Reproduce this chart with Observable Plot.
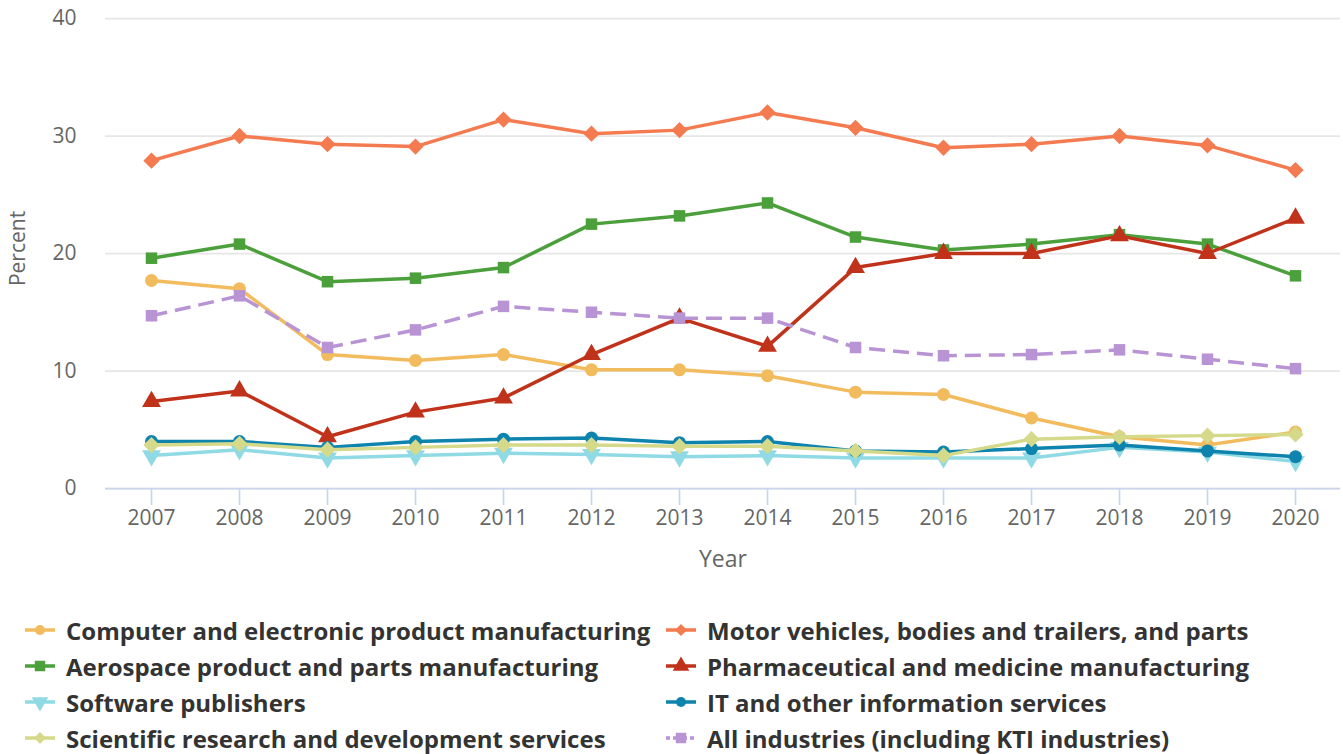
<!DOCTYPE html>
<html>
<head>
<meta charset="utf-8">
<script src="https://cdn.jsdelivr.net/npm/d3@7"></script>
<script src="https://cdn.jsdelivr.net/npm/@observablehq/plot@0.6"></script>
<style>
  html, body { margin: 0; padding: 0; background: #fff; }
  body { width: 1343px; height: 754px; overflow: hidden; font-family: "Open Sans", sans-serif; }
  #legend { position: relative; height: 174px; }
  .item { position: absolute; display: flex; align-items: center; font-weight: bold; font-size: 24px; color: #333; white-space: nowrap; height: 32px; }
  .item svg { margin-right: 10px; flex: none; }
</style>
</head>
<body>
<div id="chart"></div>
<div id="legend"></div>
<script>
const years = [2007, 2008, 2009, 2010, 2011, 2012, 2013, 2014, 2015, 2016, 2017, 2018, 2019, 2020];
const seriesNames = [
  "Computer and electronic product manufacturing",
  "Motor vehicles, bodies and trailers, and parts",
  "Aerospace product and parts manufacturing",
  "Pharmaceutical and medicine manufacturing",
  "Software publishers",
  "IT and other information services",
  "Scientific research and development services",
  "All industries (including KTI industries)"
];
const computer   = [17.7, 17.0, 11.4, 10.9, 11.4, 10.1, 10.1, 9.6, 8.2, 8.0, 6.0, 4.4, 3.7, 4.8];
const motor      = [27.9, 30.0, 29.3, 29.1, 31.4, 30.2, 30.5, 32.0, 30.7, 29.0, 29.3, 30.0, 29.2, 27.1];
const aerospace  = [19.6, 20.8, 17.6, 17.9, 18.8, 22.5, 23.2, 24.3, 21.4, 20.3, 20.8, 21.6, 20.8, 18.1];
const pharma     = [7.4, 8.3, 4.4, 6.5, 7.7, 11.4, 14.5, 12.1, 18.8, 20.0, 20.0, 21.5, 20.0, 23.0];
const software   = [2.8, 3.3, 2.6, 2.8, 3.0, 2.9, 2.7, 2.8, 2.6, 2.6, 2.6, 3.5, 3.1, 2.3];
const itServices = [4.0, 4.0, 3.5, 4.0, 4.2, 4.3, 3.9, 4.0, 3.2, 3.1, 3.4, 3.7, 3.2, 2.7];
const scientific = [3.7, 3.8, 3.3, 3.5, 3.7, 3.7, 3.6, 3.6, 3.2, 2.8, 4.2, 4.4, 4.5, 4.6];
const allInd     = [14.7, 16.4, 12.0, 13.5, 15.5, 15.0, 14.5, 14.5, 12.0, 11.3, 11.4, 11.8, 11.0, 10.2];
const yTicks = [0, 10, 20, 30, 40];

const seriesValues = [computer, motor, aerospace, pharma, software, itServices, scientific, allInd];
const colors = ["#f2bc5e", "#f47a50", "#4ba03c", "#c1321a", "#8fdae4", "#0d83ad", "#d5d98a", "#b894d4"];

const triangleDown = {
  draw(context, size) {
    const s = Math.sqrt(size / (Math.sqrt(3) / 4));
    const h = s * Math.sqrt(3) / 2;
    context.moveTo(0, h * 2 / 3);
    context.lineTo(-s / 2, -h / 3);
    context.lineTo(s / 2, -h / 3);
    context.closePath();
  }
};
const triangleUp = {
  draw(context, size) {
    const s = Math.sqrt(size / (Math.sqrt(3) / 4));
    const h = s * Math.sqrt(3) / 2;
    context.moveTo(0, -h * 2 / 3);
    context.lineTo(-s / 2, h / 3);
    context.lineTo(s / 2, h / 3);
    context.closePath();
  }
};
const diamond = {
  draw(context, size) {
    const r = Math.sqrt(size / 2);
    context.moveTo(0, -r);
    context.lineTo(r, 0);
    context.lineTo(0, r);
    context.lineTo(-r, 0);
    context.closePath();
  }
};
const square = {
  draw(context, size) {
    const r = Math.sqrt(size) / 2;
    context.rect(-r, -r, 2 * r, 2 * r);
  }
};
const circle = d3.symbolCircle;
const symbols = [circle, diamond, square, triangleUp, triangleDown, circle, diamond, square];
const markerR = [6.5, 6.5, 6.5, 7, 7, 6.5, 6.5, 6.5];
const legendArea = [Math.PI * 25, 2 * 36, 110, 120, 120, Math.PI * 25, 2 * 36, 110];

const data = [];
seriesNames.forEach((name, i) => {
  years.forEach((yr, j) => data.push({ series: name, idx: i, year: yr, value: seriesValues[i][j] }));
});

const marks = [
  Plot.gridY(yTicks, { stroke: "#e6e6e6", strokeOpacity: 1, strokeWidth: 1.75 }),
  Plot.axisY(yTicks, { tickSize: 0, tickPadding: 29, fontSize: 21, fill: "#666", label: null, fontFamily: "Open Sans" }),
  Plot.ruleY([0], { stroke: "#ccd6eb", strokeWidth: 1.75 }),
  Plot.axisX(years, { tickSize: 17, stroke: "#ccd6eb", strokeWidth: 1.75, tickPadding: 5, fontSize: 21, fill: "#666", label: null, tickFormat: d => String(d), fontFamily: "Open Sans" }),
  Plot.text(["Year"], { frameAnchor: "bottom", lineAnchor: "middle", textAnchor: "middle", dy: 71, fontSize: 23, fill: "#666", fontFamily: "Open Sans" }),
  Plot.text(["Percent"], { frameAnchor: "left", textAnchor: "middle", lineAnchor: "middle", dx: -87, dy: -5, rotate: -90, fontSize: 21, fill: "#666", fontFamily: "Open Sans" })
];
seriesNames.forEach((name, i) => {
  const d = data.filter(r => r.idx === i);
  marks.push(Plot.line(d, {
    x: "year", y: "value", stroke: colors[i], strokeWidth: 3.5,
    strokeDasharray: i === 7 ? "16,8" : null, strokeLinejoin: "round", strokeLinecap: i === 7 ? "butt" : "round"
  }));
  marks.push(Plot.dot(d, {
    x: "year", y: "value", fill: colors[i], stroke: "none", symbol: () => symbols[i], r: markerR[i]
  }));
});

const chart = Plot.plot({
  width: 1343,
  height: 580,
  marginTop: 18,
  marginBottom: 92,
  marginLeft: 105,
  marginRight: 3,
  style: { fontFamily: "Open Sans", background: "#fff", overflow: "visible" },
  x: { type: "point", domain: years, padding: 0.5, axis: null },
  y: { domain: [0, 40], axis: null },
  symbol: { type: "identity" },
  marks
});
document.getElementById("chart").appendChild(chart);

// legend
const legend = document.getElementById("legend");
seriesNames.forEach((name, i) => {
  const col = i % 2, row = Math.floor(i / 2);
  const div = document.createElement("div");
  div.className = "item";
  div.style.left = (col === 0 ? 24 : 665) + "px";
  div.style.top = (50 + row * 36 - 16) + "px";
  const svg = d3.create("svg").attr("width", 32).attr("height", 20);
  svg.append("line").attr("x1", 1).attr("x2", 31).attr("y1", 10).attr("y2", 10)
    .attr("stroke", colors[i]).attr("stroke-width", 3.5)
    .attr("stroke-dasharray", i === 7 ? "4,3,14,3" : null);
  svg.append("path").attr("d", d3.symbol(symbols[i], legendArea[i])()).attr("transform", "translate(16,10)").attr("fill", colors[i]);
  div.appendChild(svg.node());
  const span = document.createElement("span");
  span.textContent = name;
  div.appendChild(span);
  legend.appendChild(div);
});
</script>
</body>
</html>
